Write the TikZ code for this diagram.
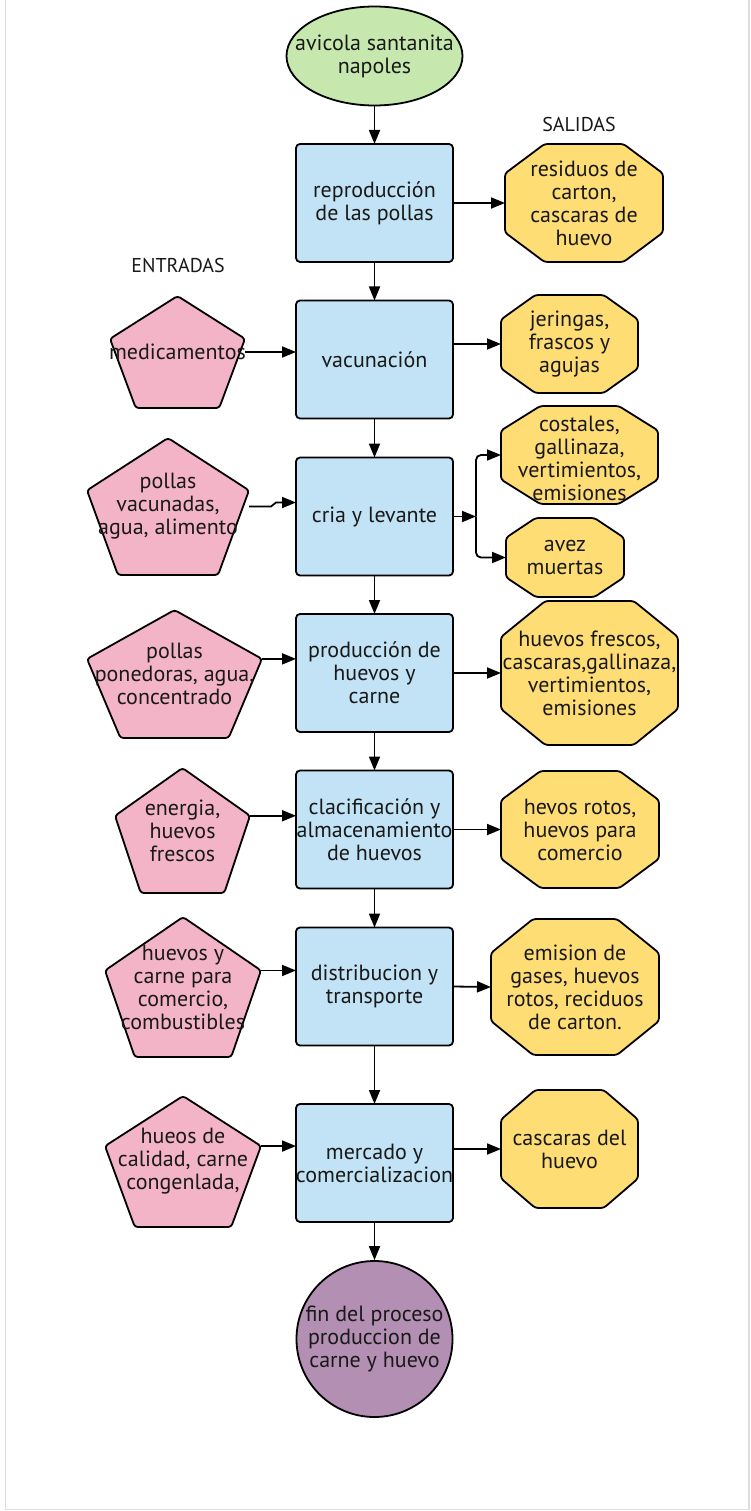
\documentclass[tikz,border=0pt]{standalone}
\usepackage{fontspec}
\setmainfont{PT Sans}
\usetikzlibrary{calc,arrows.meta,shapes.geometric}
\definecolor{boxblue}{HTML}{C2E3F6}
\definecolor{pinkc}{HTML}{F4B4C8}
\definecolor{yellowc}{HTML}{FFDD75}
\definecolor{greenc}{HTML}{C6E8AE}
\definecolor{purplec}{HTML}{B48FB4}
\definecolor{framec}{HTML}{DDDDDD}
\tikzset{
  lbl/.style={font=\fontsize{22}{23}\selectfont, align=center, inner sep=0pt, text=black!90},
  hdr/.style={font=\fontsize{20}{20}\selectfont, inner sep=0pt, text=black!90},
  anchorbox/.style={shape=rectangle, draw=none, inner sep=0pt, outer sep=0pt},
  procbox/.style={anchorbox, draw=black, line width=1.8pt, rounded corners=4pt, fill=boxblue, minimum width=157pt, minimum height=118pt},
  shapeline/.style={draw=black, line width=1.8pt, line join=round, rounded corners=3pt},
  arr/.style={draw=black, line width=1.8pt, -{Triangle[length=14pt,width=11pt]}},
}
\newcommand\pentdraw[1]{%
  \coordinate (#1-r) at ($(#1.north east)!0.382!(#1.south east)$);
  \coordinate (#1-l) at ($(#1.north west)!0.382!(#1.south west)$);
  \path[shapeline, fill=pinkc] (#1.north) -- (#1-r) -- ($(#1.south east)!0.191!(#1.south west)$) -- ($(#1.south west)!0.191!(#1.south east)$) -- (#1-l) -- cycle;}
\newcommand\octdraw[1]{%
  \path[shapeline, fill=yellowc]
   ($(#1.north west)!0.25!(#1.north east)$) -- ($(#1.north east)!0.25!(#1.north west)$) --
   ($(#1.north east)!0.25!(#1.south east)$) -- ($(#1.south east)!0.25!(#1.north east)$) --
   ($(#1.south east)!0.25!(#1.south west)$) -- ($(#1.south west)!0.25!(#1.south east)$) --
   ($(#1.south west)!0.25!(#1.north west)$) -- ($(#1.north west)!0.25!(#1.south west)$) -- cycle;}
\begin{document}
\begin{tikzpicture}[x=1pt,y=-1pt]
\useasboundingbox (0,0) rectangle (751,1511);
\draw[framec, line width=1.5pt] (5.5,0) -- (5.5,1509.5) -- (749,1509.5) -- (749,0);

% start / end
\node[ellipse, draw=black, line width=1.8pt, fill=greenc, minimum width=176pt, minimum height=99pt, inner sep=0pt] (st) at (374.5,56) {};
\node[lbl] (stt) at (st) {avicola santanita\\napoles};
\node[circle, draw=black, line width=1.8pt, fill=purplec, minimum size=156pt, inner sep=0pt] (en) at (374.5,1339) {};
\node[lbl] (ent) at (en) {fin del proceso\\produccion de\\carne y huevo};

% process boxes
\node[procbox] (b1) at (374.5,203) {};
\node[procbox] (b2) at (374.5,359.5) {};
\node[procbox] (b3) at (374.5,516.5) {};
\node[procbox] (b4) at (374.5,673) {};
\node[procbox] (b5) at (374.5,829.5) {};
\node[procbox] (b6) at (374.5,986.5) {};
\node[procbox] (b7) at (374.5,1163) {};
\node[lbl] (b1t) at (b1) {reproducción\\de las pollas};
\node[lbl] (b2t) at (b2) {vacunación};
\node[lbl] (b3t) at (b3) {cria y levante};
\node[lbl] (b4t) at (b4) {producción de\\huevos y\\carne};
\node[lbl] (b5t) at (b5) {clacificación y\\almacenamiento\\de huevos};
\node[lbl] (b6t) at (b6) {distribucion y\\transporte};
\node[lbl] (b7t) at (b7) {mercado y\\comercializacion};

% inputs
\node[anchorbox, minimum width=135pt, minimum height=112pt] (i1) at (177.5,352) {};
\node[anchorbox, minimum width=162pt, minimum height=137pt] (i2) at (168,506.5) {};
\node[anchorbox, minimum width=175pt, minimum height=128pt] (i3) at (174.5,674) {};
\node[anchorbox, minimum width=135pt, minimum height=125pt] (i4) at (182.5,830.5) {};
\node[anchorbox, minimum width=156pt, minimum height=140pt] (i5) at (183,987) {};
\node[anchorbox, minimum width=156pt, minimum height=131pt] (i6) at (183,1161.5) {};
\pentdraw{i1}\pentdraw{i2}\pentdraw{i3}\pentdraw{i4}\pentdraw{i5}\pentdraw{i6}
\node[lbl] (i1t) at (i1) {medicamentos};
\node[lbl] (i2t) at (i2) {pollas\\vacunadas,\\agua, alimento};
\node[lbl] (i3t) at (i3) {pollas\\ponedoras, agua,\\concentrado};
\node[lbl] (i4t) at (i4) {energia,\\huevos\\frescos};
\node[lbl] (i5t) at (i5) {huevos y\\carne para\\comercio,\\combustibles};
\node[lbl] (i6t) at (i6) {hueos de\\calidad, carne\\congenlada,};

% outputs
\node[anchorbox, minimum width=158pt, minimum height=118pt] (o1) at (584,203) {};
\node[anchorbox, minimum width=137pt, minimum height=98pt] (o2) at (569.5,344) {};
\node[anchorbox, minimum width=157pt, minimum height=98pt] (o3) at (579.5,455) {};
\node[anchorbox, minimum width=118pt, minimum height=79pt] (o4) at (565,557.5) {};
\node[anchorbox, minimum width=177pt, minimum height=144pt] (o5) at (589.5,673) {};
\node[anchorbox, minimum width=158pt, minimum height=117pt] (o6) at (580,829.5) {};
\node[anchorbox, minimum width=168pt, minimum height=136pt] (o7) at (575,987) {};
\node[anchorbox, minimum width=137pt, minimum height=118pt] (o8) at (569.5,1149) {};
\octdraw{o1}\octdraw{o2}\octdraw{o3}\octdraw{o4}\octdraw{o5}\octdraw{o6}\octdraw{o7}\octdraw{o8}
\node[lbl] (o1t) at (o1) {residuos de\\carton,\\cascaras de\\huevo};
\node[lbl] (o2t) at (o2) {jeringas,\\frascos y\\agujas};
\node[lbl] (o3t) at ([yshift=-3pt]o3.center) {costales,\\gallinaza,\\vertimientos,\\emisiones};
\node[lbl] (o4t) at (o4) {avez\\muertas};
\node[lbl] (o5t) at (o5) {huevos frescos,\\cascaras,gallinaza,\\vertimientos,\\emisiones};
\node[lbl] (o6t) at (o6) {hevos rotos,\\huevos para\\comercio};
\node[lbl] (o7t) at (o7) {emision de\\gases, huevos\\rotos, reciduos\\de carton.};
\node[lbl] (o8t) at (o8) {cascaras del\\huevo};

% headers
\node[hdr] (sal) at (579,125) {SALIDAS};
\node[hdr] (ent2) at (178,266) {ENTRADAS};

% main flow
\draw[arr] (st) -- (b1);
\draw[arr] (b1) -- (b2);
\draw[arr] (b2) -- (b3);
\draw[arr] (b3) -- (b4);
\draw[arr] (b4) -- (b5);
\draw[arr] (b5) -- (b6);
\draw[arr] (b6) -- (b7);
\draw[arr] (b7) -- (en);

% inputs arrows
\draw[arr] (i1.east) -- (i1.east -| b2.west);
\draw[arr] (i2.east) -- ++(22,0) -- ++(5,-4) coordinate (j2) -- (j2 -| b3.west);
\draw[arr] (i3-r) -- (i3-r -| b4.west);
\draw[arr] (i4-r) -- (i4-r -| b5.west);
\draw[arr] (i5-r) -- (i5-r -| b6.west);
\draw[arr] (i6-r) -- (i6-r -| b7.west);

% output arrows
\draw[arr] (b1.east) -- (o1.west);
\draw[arr] (o2.west -| b2.east) -- (o2.west);
\draw[arr] (b3.east) -- ++(23,0) coordinate (f3);
\draw[arr, rounded corners=5pt] (f3) |- (o3.west);
\draw[arr, rounded corners=5pt] (f3) |- (o4.west);
\draw[arr] (b4.east) -- (o5.west);
\draw[arr] (b5.east) -- (o6.west);
\draw[arr] (b6.east) -- (o7.west);
\draw[arr] (o8.west -| b7.east) -- (o8.west);
\end{tikzpicture}
\end{document}
